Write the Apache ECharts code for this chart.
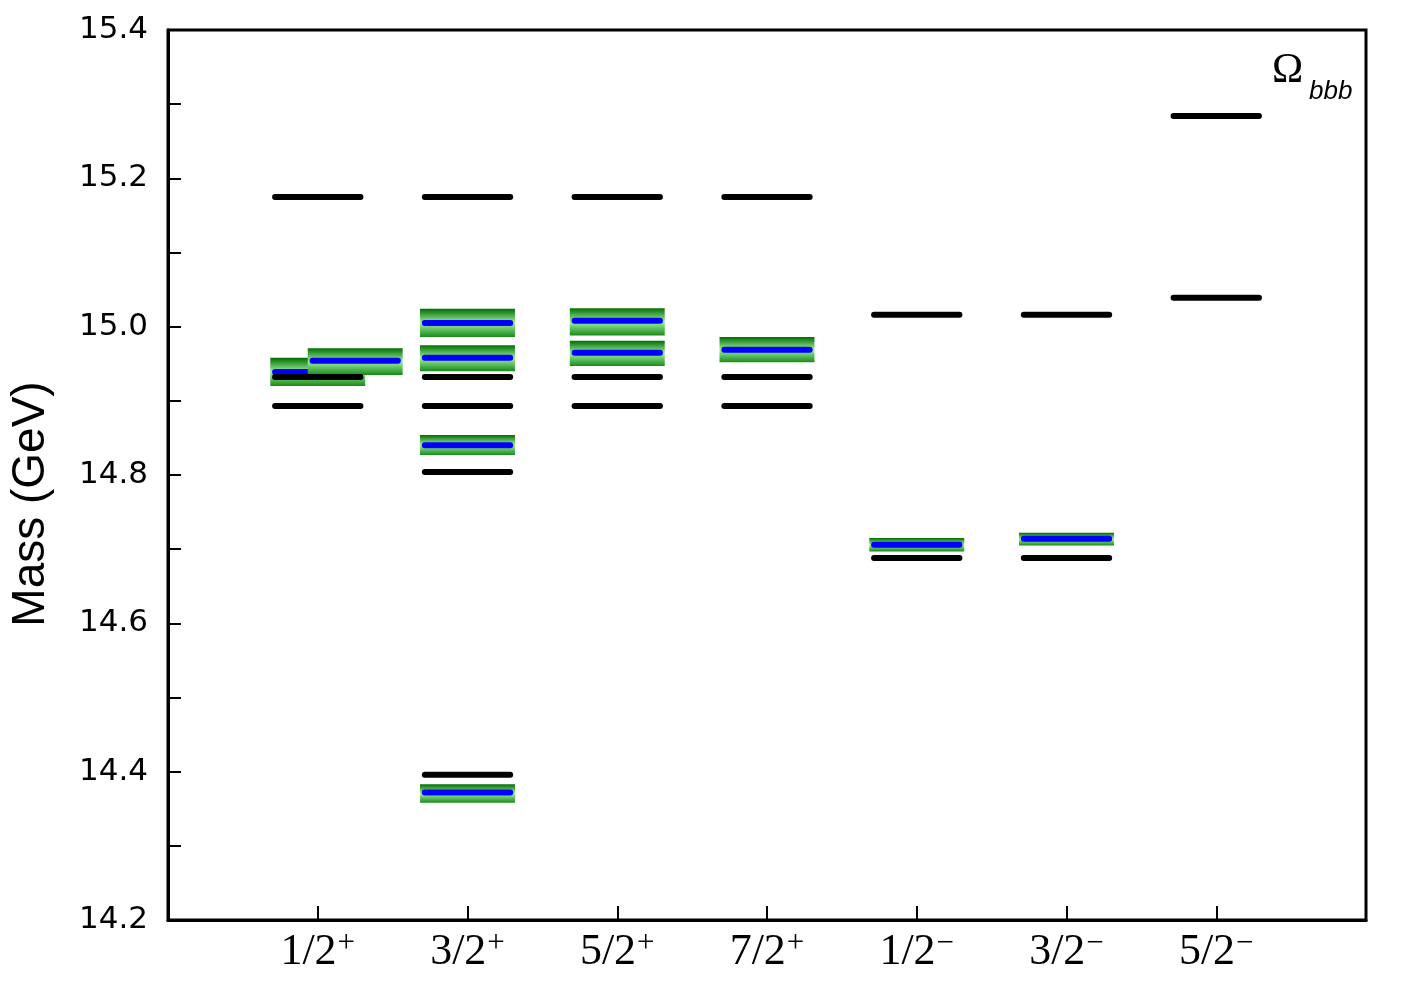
<!DOCTYPE html>
<html>
<head>
<meta charset="utf-8">
<script src="https://cdn.jsdelivr.net/npm/echarts@6/dist/echarts.min.js"></script>
<style>
html,body{margin:0;padding:0;background:#fff;}
#chart{width:1407px;height:984px;}
</style>
</head>
<body>
<div id="chart"></div>
<script>
// Categories (J^P)
const spins = ['1/2', '3/2', '5/2', '7/2', '1/2', '3/2', '5/2'];
const parities = ['+', '+', '+', '+', '\u2212', '\u2212', '\u2212'];
const categoryPositions = [1, 2, 3, 4, 5, 6, 7];

// Black levels: [category position, mass GeV]
const blackX = [1, 1, 1, 2, 2, 2, 2, 2, 3, 3, 3, 4, 4, 4, 5, 5, 6, 6, 7, 7];
const blackMass = [15.175, 14.932, 14.893, 15.175, 14.932, 14.893, 14.804, 14.396,
                   15.175, 14.932, 14.893, 15.175, 14.932, 14.893,
                   15.016, 14.688, 15.016, 14.688, 15.284, 15.039];

// Bands: position, central value, lower edge, upper edge
const bandX     = [1, 1.25, 2, 2, 2, 2, 3, 3, 4, 5, 6];
const bandMass  = [14.939, 14.954, 15.005, 14.958, 14.840, 14.372, 15.008, 14.965, 14.969, 14.706, 14.714];
const bandLow   = [14.920, 14.935, 14.986, 14.940, 14.827, 14.358, 14.988, 14.947, 14.952, 14.697, 14.705];
const bandHigh  = [14.958, 14.971, 15.024, 14.975, 14.854, 14.383, 15.025, 14.981, 14.986, 14.715, 14.722];

// Y axis ticks
const yMin = 14.2, yMax = 15.4, yStep = 0.1;

const blackData = blackX.map((x, i) => [x, blackMass[i]]);
const bandData = bandX.map((x, i) => [x, bandMass[i], bandLow[i], bandHigh[i]]);

const LEVEL_HALF = 0.285;
const BAND_HALF = 0.317;

const chart = echarts.init(document.getElementById('chart'), null, {renderer: 'canvas'});

function renderLevel(params, api) {
  const x = api.value(0), y = api.value(1);
  const p1 = api.coord([x - LEVEL_HALF, y]);
  const p2 = api.coord([x + LEVEL_HALF, y]);
  return {
    type: 'line',
    shape: {x1: p1[0], y1: p1[1], x2: p2[0], y2: p2[1]},
    style: {stroke: '#000', lineWidth: 6, lineCap: 'round'}
  };
}

function renderBand(params, api) {
  const x = api.value(0), mid = api.value(1), lo = api.value(2), hi = api.value(3);
  const tl = api.coord([x - BAND_HALF, hi]);
  const br = api.coord([x + BAND_HALF, lo]);
  const m1 = api.coord([x - LEVEL_HALF, mid]);
  const m2 = api.coord([x + LEVEL_HALF, mid]);
  return {
    type: 'group',
    children: [
      {
        type: 'rect',
        shape: {x: tl[0], y: tl[1], width: br[0] - tl[0], height: br[1] - tl[1]},
        style: {
          fill: new echarts.graphic.LinearGradient(0, 0, 0, 1, [
            {offset: 0, color: '#006e00'},
            {offset: 0.5, color: '#9cf09c'},
            {offset: 1, color: '#1a8a1a'}
          ])
        }
      },
      {
        type: 'line',
        shape: {x1: m1[0], y1: m1[1], x2: m2[0], y2: m2[1]},
        style: {stroke: '#0000ff', lineWidth: 6, lineCap: 'round'}
      }
    ]
  };
}

const option = {
  backgroundColor: '#fff',
  animation: false,
  grid: {left: 168, right: 41, top: 30, bottom: 64, show: true, borderColor: '#000', borderWidth: 3,
         backgroundColor: 'transparent', containLabel: false, outerBoundsMode: 'none'},
  xAxis: {
    type: 'value', min: 0, max: 8, interval: 1,
    axisLine: {show: true, lineStyle: {color: '#000', width: 3}},
    axisTick: {show: true, inside: true, length: 14, lineStyle: {color: '#000', width: 2}},
    splitLine: {show: false},
    axisLabel: {
      margin: 8,
      formatter: function (v) {
        const i = categoryPositions.indexOf(Math.round(v));
        if (i < 0 || Math.abs(v - Math.round(v)) > 1e-6) return '';
        return '{n|' + spins[i] + '}{s|' + parities[i] + '}';
      },
      rich: {
        n: {fontFamily: 'Liberation Serif', fontSize: 44, color: '#000', lineHeight: 48},
        s: {fontFamily: 'Liberation Serif', fontSize: 31, color: '#000', verticalAlign: 'top', lineHeight: 48, padding: [0, 0, 24, 1]}
      }
    }
  },
  yAxis: {
    type: 'value', min: yMin, max: yMax, interval: yStep,
    name: 'Mass (GeV)', nameLocation: 'middle', nameRotate: 90, nameGap: 114,
    nameTextStyle: {fontFamily: 'Liberation Sans', fontSize: 46, color: '#000', padding: [0, 58, 0, 0]},
    axisLine: {show: true, lineStyle: {color: '#000', width: 3}},
    axisTick: {show: true, inside: true, length: 13, lineStyle: {color: '#000', width: 2}},
    splitLine: {show: false},
    axisLabel: {
      margin: 20,
      fontFamily: 'DejaVu Sans', fontSize: 31, color: '#000',
      formatter: function (v) {
        const k = Math.round(v * 10);
        return (k % 2 === 0) ? (k / 10).toFixed(1) : '';
      }
    }
  },
  graphic: [
    {
      type: 'text', x: 1272, y: 71,
      style: {text: '\u03A9', font: '42px "Liberation Serif"', fill: '#000', textAlign: 'left', textVerticalAlign: 'middle', verticalAlign: 'middle'}
    },
    {
      type: 'text', x: 1309, y: 92,
      style: {text: 'bbb', font: 'italic 26px "Liberation Sans"', fill: '#000', textAlign: 'left', textVerticalAlign: 'middle', verticalAlign: 'middle'}
    }
  ],
  series: [
    {type: 'custom', name: 'bands', data: bandData, renderItem: renderBand, encode: {x: 0, y: [1, 2, 3]}, z: 2},
    {type: 'custom', name: 'levels', data: blackData, renderItem: renderLevel, encode: {x: 0, y: 1}, z: 3}
  ]
};
chart.setOption(option);
</script>
</body>
</html>
